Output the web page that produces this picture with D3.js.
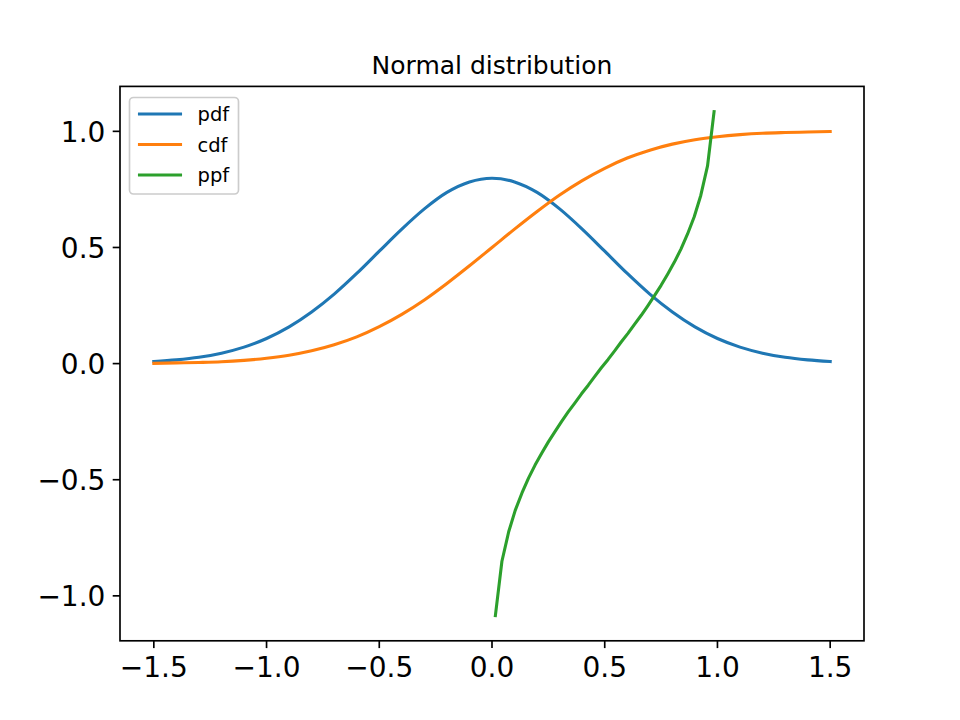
<!DOCTYPE html>
<html>
<head>
<meta charset="utf-8">
<script src="https://cdn.jsdelivr.net/npm/d3@7"></script>
<style>
  html, body { margin: 0; padding: 0; background: #fff; }
  svg { display: block; font-family: "DejaVu Sans", sans-serif; }
</style>
</head>
<body>
<svg id="chart" width="960" height="720"></svg>
<script>
// ---- data ----
const title = "Normal distribution";
const seriesNames = ["pdf", "cdf", "ppf"];
const seriesColors = ["#1f77b4", "#ff7f0e", "#2ca02c"];

const xGrid = [-1.5,-1.4,-1.3,-1.2,-1.1,-1.0,-0.9,-0.8,-0.7,-0.6,-0.5,-0.4,-0.3,-0.2,-0.1,
                0.0,0.1,0.2,0.3,0.4,0.5,0.6,0.7,0.8,0.9,1.0,1.1,1.2,1.3,1.4,1.5];
const pdfValues = [0.009,0.016,0.027,0.045,0.071,0.108,0.158,0.222,0.299,0.388,0.484,0.579,0.666,0.737,0.782,
                   0.798,0.782,0.737,0.666,0.579,0.484,0.388,0.299,0.222,0.158,0.108,0.071,0.045,0.027,0.016,0.009];
const cdfValues = [0.001,0.003,0.005,0.008,0.014,0.023,0.036,0.055,0.081,0.115,0.159,0.212,0.274,0.345,0.421,
                   0.500,0.579,0.655,0.726,0.788,0.841,0.885,0.919,0.945,0.964,0.977,0.986,0.992,0.995,0.997,0.999];

const ppfX = [0.015,0.044,0.074,0.103,0.133,0.162,0.191,0.221,0.250,0.280,0.309,0.338,0.368,0.397,0.427,0.456,0.485,
              0.515,0.544,0.573,0.603,0.632,0.662,0.691,0.720,0.750,0.779,0.809,0.838,0.867,0.897,0.926,0.956,0.985];
const ppfValues = [-1.085,-0.851,-0.724,-0.632,-0.557,-0.493,-0.437,-0.385,-0.337,-0.292,-0.249,-0.208,-0.169,-0.130,-0.093,-0.055,-0.018,
                   0.018,0.055,0.093,0.130,0.169,0.208,0.249,0.292,0.337,0.385,0.437,0.493,0.557,0.632,0.724,0.851,1.085];

const xTicks = [-1.5,-1.0,-0.5,0.0,0.5,1.0,1.5];
const yTicks = [-1.0,-0.5,0.0,0.5,1.0];

// ---- layout ----
const plotL = 120, plotR = 864, plotT = 86.4, plotB = 640.8;

const series = [
  xGrid.map((v, i) => [v, pdfValues[i]]),
  xGrid.map((v, i) => [v, cdfValues[i]]),
  ppfX.map((v, i) => [v, ppfValues[i]])
];

const allPts = series.flat();
const xe = d3.extent(allPts, d => d[0]);
const ye = d3.extent(allPts, d => d[1]);
const xm = (xe[1] - xe[0]) * 0.05, ym = (ye[1] - ye[0]) * 0.05;

const x = d3.scaleLinear().domain([xe[0] - xm, xe[1] + xm]).range([plotL, plotR]);
const y = d3.scaleLinear().domain([ye[0] - ym, ye[1] + ym]).range([plotB, plotT]);

const svg = d3.select("#chart");
const fmt = v => d3.format(".1f")(v).replace("-", "\u2212");

svg.append("defs").append("clipPath").attr("id", "clip")
  .append("rect").attr("x", plotL).attr("y", plotT)
  .attr("width", plotR - plotL).attr("height", plotB - plotT);

const smooth = d3.line().x(d => x(d[0])).y(d => y(d[1])).curve(d3.curveMonotoneX);
const straight = d3.line().x(d => x(d[0])).y(d => y(d[1]));
const g = svg.append("g").attr("clip-path", "url(#clip)");
series.forEach((s, i) => {
  g.append("path")
    .attr("d", i < 2 ? smooth(s) : straight(s))
    .attr("fill", "none")
    .attr("stroke", seriesColors[i])
    .attr("stroke-width", 3.1)
    .attr("stroke-linejoin", "round")
    .attr("stroke-linecap", "square");
});

svg.append("rect")
  .attr("x", plotL).attr("y", plotT)
  .attr("width", plotR - plotL).attr("height", plotB - plotT)
  .attr("fill", "none").attr("stroke", "#000").attr("stroke-width", 1.67);

const xAxis = svg.append("g");
xTicks.forEach(t => {
  xAxis.append("line")
    .attr("x1", x(t)).attr("x2", x(t))
    .attr("y1", plotB).attr("y2", plotB + 7.3)
    .attr("stroke", "#000").attr("stroke-width", 1.67);
  xAxis.append("text")
    .attr("x", x(t)).attr("y", plotB + 36.5)
    .attr("text-anchor", "middle")
    .attr("font-size", 28).attr("fill", "#000")
    .text(fmt(t));
});

const yAxis = svg.append("g");
yTicks.forEach(t => {
  yAxis.append("line")
    .attr("x1", plotL - 7.3).attr("x2", plotL)
    .attr("y1", y(t)).attr("y2", y(t))
    .attr("stroke", "#000").attr("stroke-width", 1.67);
  yAxis.append("text")
    .attr("x", plotL - 14.6).attr("y", y(t) + 10.6)
    .attr("text-anchor", "end")
    .attr("font-size", 28).attr("fill", "#000")
    .text(fmt(t));
});

svg.append("text")
  .attr("x", (plotL + plotR) / 2).attr("y", 73.5)
  .attr("text-anchor", "middle")
  .attr("font-size", 25).attr("fill", "#000")
  .text(title);

const lg = svg.append("g");
lg.append("rect")
  .attr("x", 129.5).attr("y", 97.5).attr("width", 109).attr("height", 96.5)
  .attr("rx", 4).attr("ry", 4)
  .attr("fill", "#fff").attr("fill-opacity", 0.8)
  .attr("stroke", "#cccccc").attr("stroke-width", 1.67);
const rowY = [114, 144.5, 175];
seriesNames.forEach((name, i) => {
  lg.append("line")
    .attr("x1", 139.5).attr("x2", 180.5)
    .attr("y1", rowY[i]).attr("y2", rowY[i])
    .attr("stroke", seriesColors[i]).attr("stroke-width", 3.1)
    .attr("stroke-linecap", "square");
  lg.append("text")
    .attr("x", 197.5).attr("y", rowY[i] + 7)
    .attr("font-size", 19.5).attr("fill", "#000")
    .text(name);
});
</script>
</body>
</html>
